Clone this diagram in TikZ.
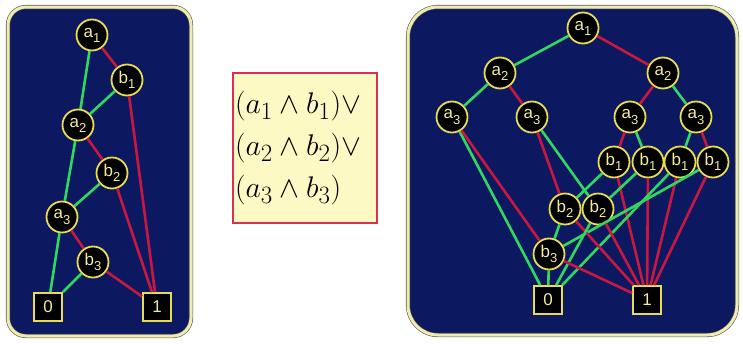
\documentclass[tikz,border=0pt]{standalone}
\usepackage{fontspec}
\setsansfont{Liberation Sans}
\usetikzlibrary{positioning}
\definecolor{navy}{RGB}{12,24,96}
\definecolor{cream}{RGB}{240,236,176}
\definecolor{lowgreen}{RGB}{48,216,96}
\definecolor{highred}{RGB}{200,24,64}
\definecolor{ring}{RGB}{232,220,80}
\definecolor{pale}{RGB}{253,249,196}
\definecolor{boxred}{RGB}{216,48,80}
\newcommand{\bddvar}[2]{#1\raisebox{-0.3em}{\fontsize{13}{13}\selectfont #2}}
\newcommand{\term}[1]{\scalebox{1.2}{$#1$}}

\begin{document}
\begin{tikzpicture}[x=1pt, y=-1pt,
  panel/.style={fill=navy, draw=gray!70!black, double=cream, double distance=3pt, line width=0.6pt},
  var/.style={circle, draw=ring, line width=1.8pt, fill=black, text=ring!55!white, minimum size=31pt, inner sep=0pt, font=\sffamily\fontsize{17}{17}\selectfont},
  leaf/.style={rectangle, draw=ring, line width=1.8pt, fill=black, text=ring!55!white, minimum size=28pt, inner sep=0pt, font=\sffamily\fontsize{17}{17}\selectfont},
  formula/.style={draw=boxred, line width=1.6pt, fill=pale, minimum width=144pt, minimum height=150pt, text width=140pt, align=left, inner xsep=2pt, font=\fontsize{24.88}{42}\selectfont},
  low/.style={lowgreen, line width=2.6pt},
  high/.style={highred, line width=2.6pt}]
\useasboundingbox (0,0) rectangle (743,343);

% panels
\draw[panel, rounded corners=18pt] (8,7) rectangle (191,336);
\draw[panel, rounded corners=30pt] (408,7) rectangle (737,335);

% the function
\node[formula] (fn) at (305,148) {\term{(a_1 \wedge b_1)\vee}\\ \term{(a_2 \wedge b_2)\vee}\\ \term{(a_3 \wedge b_3)}};

% interleaved order
\node[var] (la1) at (92,35) {\bddvar{a}{1}};
\node[var] (lb1) at (127,80) {\bddvar{b}{1}};
\node[var] (la2) at (78,125) {\bddvar{a}{2}};
\node[var] (lb2) at (112,173) {\bddvar{b}{2}};
\node[var] (la3) at (62,217) {\bddvar{a}{3}};
\node[var] (lb3) at (93,262) {\bddvar{b}{3}};
\node[leaf] (lzero) at (48,307) {0};
\node[leaf] (lone) at (157,307) {1};

\draw[low] (la1) -- (la2);
\draw[high] (la1) -- (lb1);
\draw[low] (lb1) -- (la2);
\draw[high] (lb1) -- (lone);
\draw[low] (la2) -- (la3);
\draw[high] (la2) -- (lb2);
\draw[low] (lb2) -- (la3);
\draw[high] (lb2) -- (lone);
\draw[low] (la3) -- (lzero);
\draw[high] (la3) -- (lb3);
\draw[low] (lb3) -- (lzero);
\draw[high] (lb3) -- (lone);

% separated order
\node[var] (a1) at (583,28) {\bddvar{a}{1}};
\node[var] (a2l) at (500,73) {\bddvar{a}{2}};
\node[var] (a2r) at (663,73) {\bddvar{a}{2}};
\node[var] (a3p) at (452,117) {\bddvar{a}{3}};
\node[var] (a3q) at (532,117) {\bddvar{a}{3}};
\node[var] (a3r) at (630,117) {\bddvar{a}{3}};
\node[var] (a3s) at (696,117) {\bddvar{a}{3}};
\node[var] (b1p) at (614,162) {\bddvar{b}{1}};
\node[var] (b1q) at (648,162) {\bddvar{b}{1}};
\node[var] (b1r) at (680,162) {\bddvar{b}{1}};
\node[var] (b1s) at (713,162) {\bddvar{b}{1}};
\node[var] (b2p) at (565,209) {\bddvar{b}{2}};
\node[var] (b2q) at (598,209) {\bddvar{b}{2}};
\node[var] (b3) at (549,254) {\bddvar{b}{3}};
\node[leaf] (zero) at (548,300) {0};
\node[leaf] (one) at (647,300) {1};

\draw[low] (a1) -- (a2l);
\draw[high] (a1) -- (a2r);
\draw[low] (a2l) -- (a3p);
\draw[high] (a2l) -- (a3q);
\draw[high] (a2r) -- (a3r);
\draw[low] (a2r) -- (a3s);
\draw[low] (a3p) -- (zero);
\draw[high] (a3p) -- (b3);
\draw[low] (a3q) -- (b2q);
\draw[high] (a3q) -- (b2p);
\draw[high] (a3r) -- (b1p);
\draw[low] (a3r) -- (b1q);
\draw[low] (a3s) -- (b1r);
\draw[high] (a3s) -- (b1s);
\draw[low] (b1p) -- (b2p);
\draw[high] (b1p) -- (one);
\draw[low] (b1q) -- (b2q);
\draw[high] (b1q) -- (one);
\draw[low] (b1r) -- (zero);
\draw[high] (b1r) -- (one);
\draw[low] (b1s) -- (b3);
\draw[high] (b1s) -- (one);
\draw[low] (b2p) -- (b3);
\draw[high] (b2p) -- (one);
\draw[low] (b2q) -- (zero);
\draw[high] (b2q) -- (one);
\draw[low] (b3) -- (zero);
\draw[high] (b3) -- (one);
\end{tikzpicture}
\end{document}
